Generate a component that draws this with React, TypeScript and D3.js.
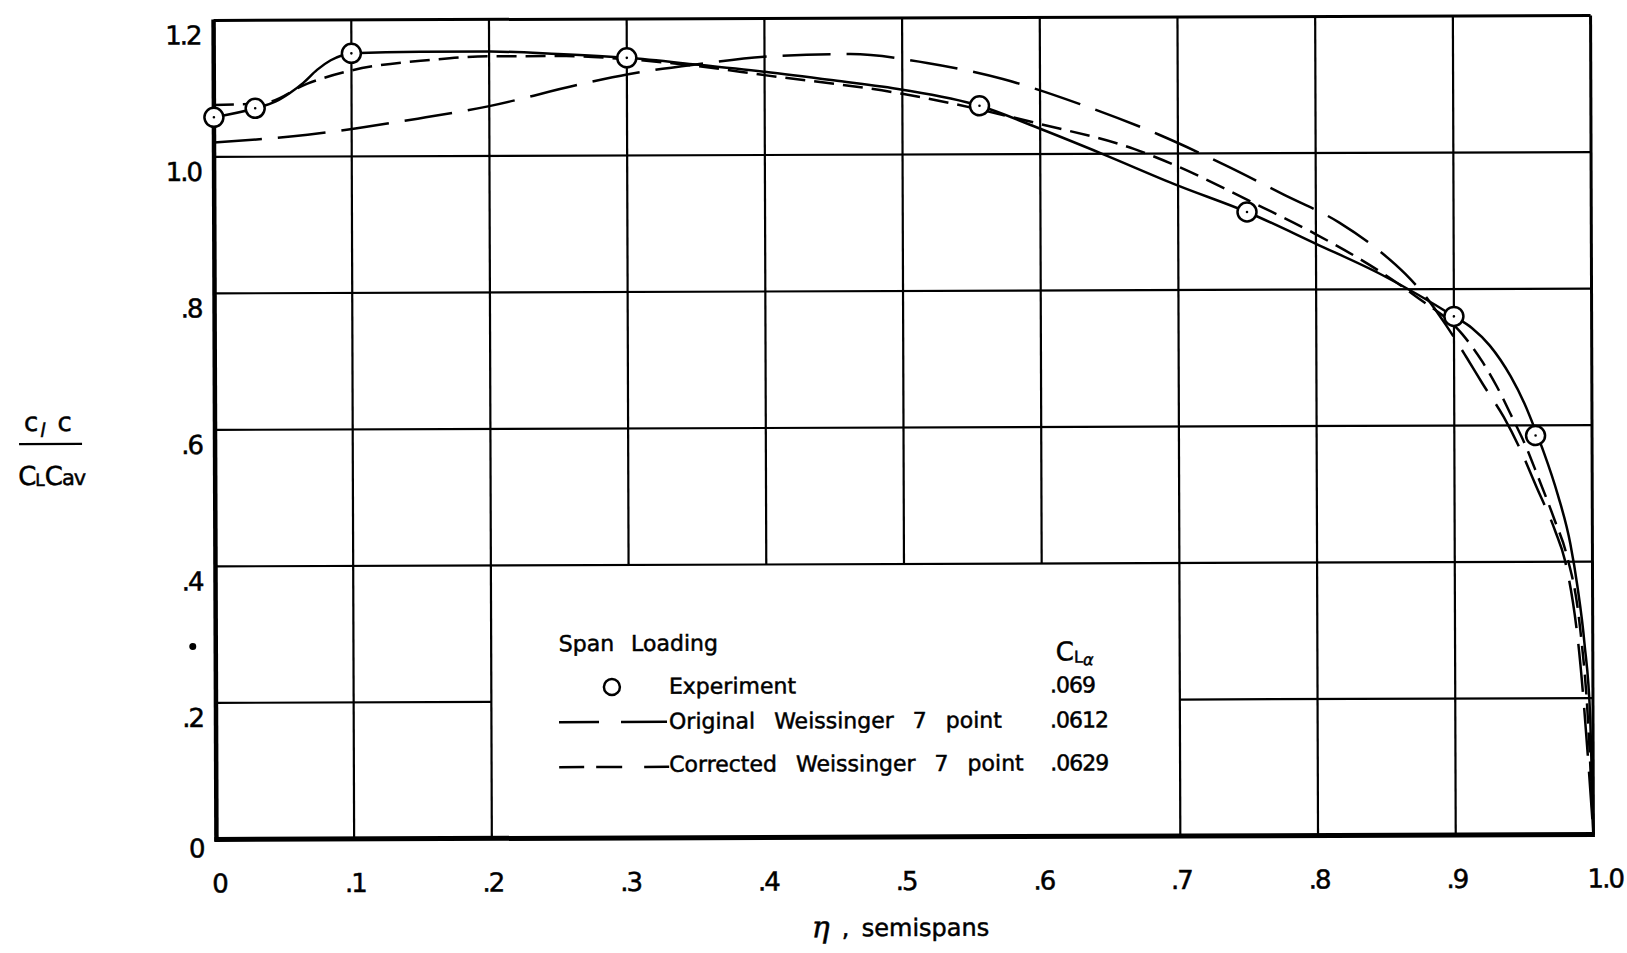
import React from 'react';
import * as d3 from 'd3';

// ---- data ----
const etaTicks = [0, 0.1, 0.2, 0.3, 0.4, 0.5, 0.6, 0.7, 0.8, 0.9, 1.0];
const etaTickLabels = ['0', '.1', '.2', '.3', '.4', '.5', '.6', '.7', '.8', '.9', '1.0'];
const loadTicks = [0, 0.2, 0.4, 0.6, 0.8, 1.0, 1.2];
const loadTickLabels = ['0', '.2', '.4', '.6', '.8', '1.0', '1.2'];

// Experiment (circles)
const expEta = [0, 0.03, 0.1, 0.3, 0.556, 0.75, 0.9, 0.959];
const expLoad = [1.058, 1.071, 1.151, 1.143, 1.071, 0.914, 0.76, 0.585];

// Faired experimental curve (solid)
const fairEta = [0, 0.03, 0.045, 0.055, 0.065, 0.075, 0.085, 0.093, 0.1, 0.15, 0.2, 0.25, 0.3, 0.35, 0.4, 0.45, 0.5, 0.556, 0.6, 0.645, 0.7, 0.75, 0.8, 0.848, 0.9, 0.913, 0.926, 0.941, 0.951, 0.959, 0.965, 0.975, 0.984, 0.989, 0.994, 0.998, 1.0];
const fairLoad = [1.058, 1.071, 1.081, 1.093, 1.108, 1.127, 1.141, 1.148, 1.151, 1.153, 1.153, 1.149, 1.143, 1.133, 1.122, 1.109, 1.095, 1.071, 1.037, 1.0, 0.953, 0.914, 0.867, 0.821, 0.76, 0.743, 0.717, 0.672, 0.632, 0.592, 0.56, 0.498, 0.426, 0.364, 0.28, 0.17, 0.0];

// Original Weissinger 7 point (long dash)
const origEta = [0, 0.068, 0.148, 0.2, 0.265, 0.301, 0.35, 0.408, 0.462, 0.518, 0.573, 0.629, 0.686, 0.735, 0.776, 0.817, 0.845, 0.865, 0.88, 0.894, 0.909, 0.921, 0.936, 0.948, 0.959, 0.973, 0.98, 0.99, 1.0];
const origLoad = [1.021, 1.032, 1.055, 1.073, 1.104, 1.119, 1.133, 1.145, 1.1475, 1.134, 1.11, 1.073, 1.028, 0.982, 0.94, 0.898, 0.858, 0.822, 0.788, 0.748, 0.7, 0.66, 0.612, 0.564, 0.512, 0.445, 0.402, 0.27, 0.0];

// Corrected Weissinger 7 point (short dash)
const corrEta = [0, 0.037, 0.068, 0.1, 0.158, 0.2, 0.255, 0.3, 0.35, 0.4, 0.5, 0.6, 0.668, 0.7, 0.75, 0.8, 0.848, 0.872, 0.906, 0.921, 0.931, 0.942, 0.952, 0.96, 0.973, 0.981, 0.991, 0.996, 1.0];
const corrLoad = [1.076, 1.079, 1.107, 1.126, 1.141, 1.146, 1.146, 1.141, 1.131, 1.117, 1.089, 1.044, 1.007, 0.981, 0.932, 0.881, 0.824, 0.79, 0.734, 0.692, 0.657, 0.612, 0.569, 0.528, 0.459, 0.412, 0.3, 0.18, 0.0];

const legendNames = ['Experiment', 'Original Weissinger 7 point', 'Corrected Weissinger 7 point'];
const legendCLalpha = ['.069', '.0612', '.0629'];

const FONT = '"DejaVu Sans", "Liberation Sans", sans-serif';

export default function App() {
  const W = 1627;
  const H = 953;
  const x = d3.scaleLinear().domain([0, 1]).range([215, 1592]);
  const y = d3.scaleLinear().domain([0, 1.2]).range([837, 18]);
  const zip = (a: number[], b: number[]) => a.map((v, i) => [v, b[i]] as [number, number]);
  const line = d3
    .line<[number, number]>()
    .x((d) => x(d[0]))
    .y((d) => y(d[1]))
    .curve(d3.curveMonotoneX);

  const gridW = 2.2;
  const ink = '#000';
  const tStroke = { stroke: ink, strokeWidth: 0.5 };

  const vGrid = etaTicks.filter((t) => t > 0.05 && t < 0.95);
  const hGrid = loadTicks.filter((v) => v > 0.05 && v < 1.15);

  const rowBase = [693, 728, 771];

  return (
    <svg
      width={W}
      height={H}
      viewBox={`0 0 ${W} ${H}`}
      style={{ position: 'absolute', left: 0, top: 0, display: 'block', background: '#fff' }}
      fontFamily={FONT}
    >
      <rect x={0} y={0} width={W} height={H} fill="#fff" />
      <g transform="rotate(-0.2 903 428)">
        {/* vertical grid */}
        {vGrid.map((t) => {
          const inLegend = t > 0.25 && t < 0.65;
          return (
            <line
              key={'v' + t}
              x1={x(t)}
              x2={x(t)}
              y1={y(1.2)}
              y2={inLegend ? y(0.4) : y(0)}
              stroke={ink}
              strokeWidth={gridW}
            />
          );
        })}
        {/* horizontal grid */}
        {hGrid.map((v) => {
          if (Math.abs(v - 0.2) < 1e-6) {
            return (
              <g key={'h' + v}>
                <line x1={x(0)} x2={x(0.2)} y1={y(v)} y2={y(v)} stroke={ink} strokeWidth={gridW} />
                <line x1={x(0.7)} x2={x(1)} y1={y(v)} y2={y(v)} stroke={ink} strokeWidth={gridW} />
              </g>
            );
          }
          return <line key={'h' + v} x1={x(0)} x2={x(1)} y1={y(v)} y2={y(v)} stroke={ink} strokeWidth={gridW} />;
        })}
        {/* frame */}
        <line x1={x(0)} x2={x(1)} y1={y(1.2)} y2={y(1.2)} stroke={ink} strokeWidth={3} />
        <line x1={x(1)} x2={x(1)} y1={y(1.2)} y2={y(0)} stroke={ink} strokeWidth={3} />
        <line x1={x(0)} x2={x(0)} y1={y(1.2) - 1} y2={y(0) + 2} stroke={ink} strokeWidth={4.5} />
        <line x1={x(0) - 2} x2={x(1) + 1.5} y1={y(0)} y2={y(0)} stroke={ink} strokeWidth={5} />

        {/* curves */}
        <path d={line(zip(origEta, origLoad)) || ''} fill="none" stroke={ink} strokeWidth={2.5} strokeDasharray="48,16" />
        <path d={line(zip(corrEta, corrLoad)) || ''} fill="none" stroke={ink} strokeWidth={2.5} strokeDasharray="20,9" />
        <path d={line(zip(fairEta, fairLoad)) || ''} fill="none" stroke={ink} strokeWidth={2.5} />

        {/* experiment points */}
        {expEta.map((e, i) => (
          <g key={'p' + i}>
            <circle cx={x(e)} cy={y(expLoad[i])} r={9.5} fill="#fff" stroke={ink} strokeWidth={2.5} />
            <circle cx={x(e)} cy={y(expLoad[i])} r={1.3} fill={ink} />
          </g>
        ))}

        {/* y tick labels */}
        {loadTicks.map((v, i) => (
          <text
            key={'yl' + v}
            x={202}
            y={y(v) + (v === 0 ? 18 : 24)}
            textAnchor="end"
            fontSize={26}
            letterSpacing={-2}
            fill={ink}
            {...tStroke}
          >
            {loadTickLabels[i]}
          </text>
        ))}

        {/* x tick labels */}
        {etaTicks.map((t, i) => {
          const lbl = etaTickLabels[i];
          const isOne = lbl === '1.0';
          return (
            <text
              key={'xl' + t}
              x={isOne ? x(t) - 6 : x(t) + (lbl === '0' ? 3 : 1)}
              y={890}
              textAnchor={isOne ? 'start' : 'middle'}
              fontSize={26}
              letterSpacing={-2}
              fill={ink}
              {...tStroke}
            >
              {lbl}
            </text>
          );
        })}

        {/* x axis title */}
        <text x={810} y={937} fontFamily='"DejaVu Serif", serif' fontStyle="italic" fontSize={30} fill={ink} {...tStroke}>
          η
        </text>
        <text x={840} y={936} fontSize={24} fill={ink} {...tStroke}>
          ,
        </text>
        <text x={860} y={936} fontSize={24} fill={ink} {...tStroke}>
          semispans
        </text>

        {/* y axis title (fraction) */}
        <text x={24} y={428} fontSize={26} fill={ink} {...tStroke}>
          c
          <tspan fontSize={19} dx={2} dy={6} fontStyle="italic">
            l
          </tspan>
          <tspan dx={12} dy={-6}>
            c
          </tspan>
        </text>
        <line x1={19} x2={82} y1={441} y2={441} stroke={ink} strokeWidth={2.2} />
        <text x={18} y={482} fontSize={26} fill={ink} letterSpacing={-1} {...tStroke}>
          C
          <tspan fontSize={17} dy={1}>
            L
          </tspan>
          <tspan fontSize={26} dy={-1} dx={1}>
            C
          </tspan>
          <tspan fontSize={21}>av</tspan>
        </text>

        {/* stray mark */}
        <circle cx={192} cy={644} r={3.5} fill={ink} />

        {/* legend */}
        <text x={558} y={650} fontSize={22} wordSpacing={10} fill={ink} {...tStroke}>
          Span Loading
        </text>
        <text x={1055} y={661} fontSize={26} fill={ink} {...tStroke}>
          C
          <tspan fontSize={16} dy={2}>
            L
          </tspan>
          <tspan fontSize={16} dy={3} fontStyle="italic">
            α
          </tspan>
        </text>

        <circle cx={611} cy={686} r={8} fill="none" stroke={ink} strokeWidth={2.5} />
        <line x1={558} x2={666} y1={721} y2={721} stroke={ink} strokeWidth={2.5} strokeDasharray="40,22,46" />
        <line x1={558} x2={668} y1={766} y2={766} stroke={ink} strokeWidth={2.5} strokeDasharray="25,12,26,22,25" />

        {legendNames.map((n, i) => (
          <text key={'ln' + i} x={668} y={rowBase[i]} fontSize={22} wordSpacing={12} fill={ink} {...tStroke}>
            {n}
          </text>
        ))}
        {legendCLalpha.map((n, i) => (
          <text key={'lc' + i} x={1049} y={rowBase[i]} fontSize={22} letterSpacing={-1} fill={ink} {...tStroke}>
            {n}
          </text>
        ))}
      </g>
    </svg>
  );
}
